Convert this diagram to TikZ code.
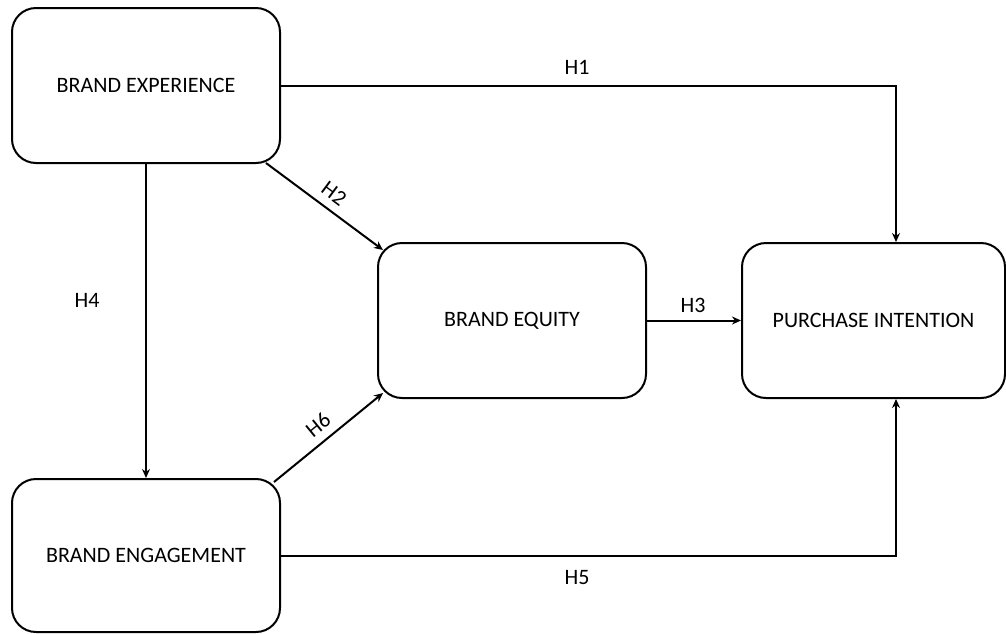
\documentclass[tikz,border=0pt]{standalone}
\usepackage{fontspec}
\setmainfont{Carlito}
\usetikzlibrary{calc,arrows.meta}

\tikzset{
  box/.style={draw, line width=1pt, rounded corners=12pt, minimum width=134pt,
    minimum height=77.5pt, font=\fontsize{11}{13}\selectfont},
  hyp/.style={font=\fontsize{11}{13}\selectfont, inner sep=1pt},
  link/.style={line width=1pt, -{Stealth[length=4.5pt,width=4pt]}}
}

\begin{document}
\begin{tikzpicture}[x=0.5pt,y=-0.5pt]
      %\draw (0,0) grid (1006,633);
      \useasboundingbox (0,0) rectangle (1006,633);
      \node [box] (bexp) at (146,85.5) {BRAND EXPERIENCE};
      \node [box] (beq) at (512,320.5) {BRAND EQUITY};
      \node [box, minimum width=131.5pt] (pi) at (873.5,320.5) {PURCHASE INTENTION};
      \node [box, minimum height=76.5pt] (beng) at (146,555.5) {BRAND ENGAGEMENT};
      \coordinate (h1top) at ($(pi.north)+(22.5,0)$);
      \coordinate (h5bot) at ($(pi.south)+(22.5,0)$);
      \draw [link] (bexp.east) -| (h1top);
      \draw [link] ($(bexp.south east)+(-15,-1)$) -- node [hyp, midway, above=3pt, sloped] {H2} ($(beq.north west)+(6,8)$);
      \draw [link] (bexp.south) -- (beng.north);
      \draw [link] ($(beng.north east)+(-7,4)$) -- node [hyp, midway, above=3pt, sloped] {H6} ($(beq.south west)+(6,-6)$);
      \draw [link] (beq.east) -- (pi.west);
      \draw [link] (beng.east) -| (h5bot);
      \node [hyp] (h1) at (577,67) {H1};
      \node [hyp] (h3) at (693,305) {H3};
      \node [hyp] (h4) at (87,300) {H4};
      \node [hyp] (h5) at (577,578) {H5};
\end{tikzpicture}
\end{document}
